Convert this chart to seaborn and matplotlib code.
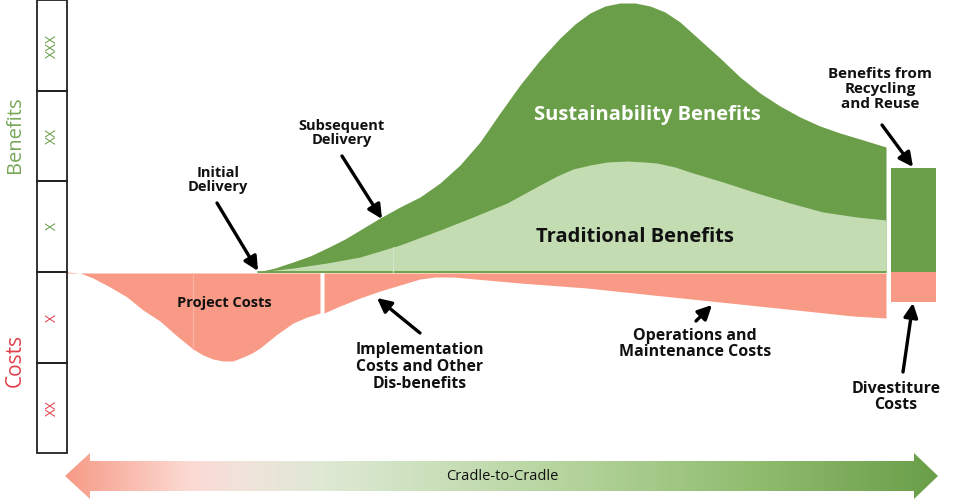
import numpy as np
import seaborn as sns
import matplotlib.pyplot as plt
from matplotlib.path import Path
from matplotlib.patches import PathPatch
from matplotlib.colors import LinearSegmentedColormap

# levels (0 = baseline, benefits up, costs down)
sust_x = [258, 275, 293, 310, 327, 345, 360, 380, 400, 420, 440, 460, 480, 500, 520, 540,
          560, 575, 590, 605, 620, 635, 650, 665, 680, 700, 720, 740, 760, 780, 800, 820,
          840, 860, 886]
sust_y = [0, 4, 10, 16, 24, 33, 42, 54, 65, 75, 89, 107, 130, 159, 187, 212,
          234, 248, 259, 266, 269, 269, 266, 260, 250, 232, 214, 195, 179, 166, 155, 146,
          139, 133, 125]
trad_x = [258, 293, 327, 360, 400, 440, 473, 507, 540, 557, 573, 590, 607, 627, 645, 657,
          675, 690, 723, 757, 790, 823, 857, 886]
trad_y = [0, 4, 9, 15, 27, 42, 55, 69, 87, 96, 103, 107, 110, 111, 110, 109,
          105, 100, 90, 79, 69, 60, 55, 52]
proj_x = [67, 80, 93, 110, 127, 143, 160, 177, 193, 203, 213, 223, 233, 243, 252, 260,
          276, 293, 307, 320]
proj_y = [0, -1, -6, -15, -25, -38, -49, -64, -77, -83, -87, -89, -89, -85, -81, -76,
          -63, -51, -45, -41]
ops_x = [324, 340, 360, 380, 400, 420, 435, 453, 520, 587, 653, 720, 787, 853, 886]
ops_y = [-41, -34, -26, -19, -13, -7, -5, -5, -11, -16, -23, -30, -37, -44, -46]
recycle = 104
divest = -30

row_labels = ['XXX', 'XX', 'X', 'X', 'XX']
row_colors = ['#6a9e48', '#6a9e48', '#6a9e48', '#e0404a', '#e0404a']

DARK = '#6a9e48'
LIGHT = '#c3dcb2'
PINK = '#f89a86'

sns.set_theme(style='white')
plt.rcParams['font.family'] = ['Open Sans', 'DejaVu Sans']

fig = plt.figure(figsize=(9.56, 5.0), dpi=100)
ax = fig.add_axes([0, 0, 1, 1])
ax.set_xlim(0, 956)
ax.set_ylim(-228, 272)
ax.axis('off')

# benefit / cost areas
ax.fill_between(sust_x, 0, sust_y, color=DARK, lw=0)
ax.fill_between(trad_x, 0, trad_y, color=LIGHT, lw=0)
ax.fill_between(proj_x, -1, proj_y, color=PINK, lw=0)
ax.fill_between(ops_x, -1, ops_y, color=PINK, lw=0)
sns.lineplot(x=[258, 886], y=[0, 0], color=DARK, lw=1.3, ax=ax)
# faint seams
ax.plot([193, 193], [-1, -77], color='#fab3a4', lw=0.8)
ax.plot([393, 393], [0, 25], color='#d3e6c6', lw=0.8)

# end-of-life bar
ax.bar([913.5], [recycle], width=45, color=DARK, lw=0)
ax.bar([913.5], [divest], width=45, color=PINK, lw=0)

# left scale boxes
edges = [272, 181, 91, 0, -91, -181]
for i in range(5):
    ax.add_patch(plt.Rectangle((37, edges[i + 1]), 30, edges[i] - edges[i + 1],
                               fill=False, ec='#222222', lw=1.3))
    ax.text(52, (edges[i] + edges[i + 1]) / 2, row_labels[i], rotation=90,
            ha='center', va='center', color=row_colors[i], fontsize=10)
ax.text(15, 137, 'Benefits', rotation=90, ha='center', va='center',
        color='#78a65a', fontsize=14.5)
ax.text(15, -88, 'Costs', rotation=90, ha='center', va='center',
        color='#e0404a', fontsize=15)

# gradient arrow along the bottom
verts = [(65, -204), (90, -181), (90, -189), (914, -189), (914, -181), (938, -204),
         (914, -227), (914, -219), (90, -219), (90, -227), (65, -204)]
path = Path(verts, [Path.MOVETO] + [Path.LINETO] * 9 + [Path.CLOSEPOLY])
patch = PathPatch(path, fc='none', ec='none')
ax.add_patch(patch)
cmap = LinearSegmentedColormap.from_list('c2c', [
    (0.0, '#f79b87'), (0.14, '#fbdad3'), (0.2, '#f1e3dc'), (0.3, '#dde9d3'),
    (0.55, '#b9d6a2'), (0.78, '#92be72'), (1.0, '#6a9e48')])
grad = np.linspace(0, 1, 400).reshape(1, -1)
im = ax.imshow(grad, cmap=cmap, aspect='auto', extent=(65, 938, -228, -180), zorder=2)
im.set_clip_path(patch)
ax.text(502, -205, 'Cradle-to-Cradle', ha='center', va='center', fontsize=10.5,
        color='#111111', zorder=3)

# labels inside the areas
ax.text(647, 157, 'Sustainability Benefits', ha='center', va='center',
        color='white', fontsize=14.5, fontweight='bold')
ax.text(635, 35, 'Traditional Benefits', ha='center', va='center',
        color='#111111', fontsize=14.5, fontweight='bold')
ax.text(224, -31, 'Project Costs', ha='center', va='center',
        color='#111111', fontsize=10.5, fontweight='bold')

# callouts
callouts = [
    ('Initial\nDelivery', (218, 92), (217, 69), (258, 1), 10.5),
    ('Subsequent\nDelivery', (342, 139), (342, 116), (382, 53), 10.5),
    ('Benefits from\nRecycling\nand Reuse', (880, 183), (882, 147), (913, 105), 11),
    ('Implementation\nCosts and Other\nDis-benefits', (420, -95), (420, -61), (377, -26), 11.3),
    ('Operations and\nMaintenance Costs', (695, -72), (696, -49), (712, -33), 11.5),
    ('Divestiture\nCosts', (896, -125), (903, -100), (913, -31), 11.5),
]
for txt, tpos, tail, head, fs in callouts:
    ax.text(tpos[0], tpos[1], txt, ha='center', va='center', fontsize=fs,
            fontweight='bold', color='#111111', linespacing=1.05)
    ax.annotate('', xy=head, xytext=tail,
                arrowprops=dict(arrowstyle='-|>,head_length=0.7,head_width=0.35',
                                color='black', lw=2.4, shrinkA=0, shrinkB=0))

fig.savefig('out.png', dpi=100)
